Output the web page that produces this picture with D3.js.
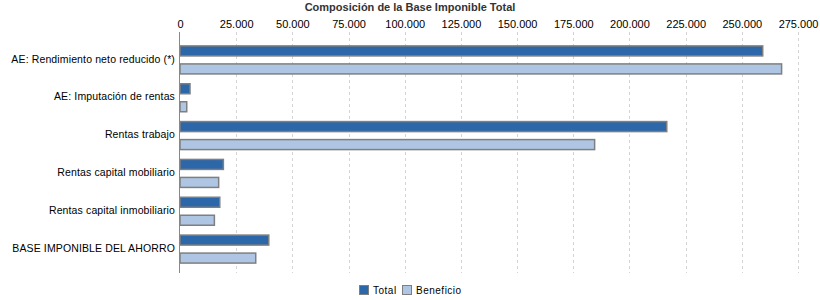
<!DOCTYPE html>
<html>
<head>
<meta charset="utf-8">
<script src="https://cdn.jsdelivr.net/npm/d3@7"></script>
<style>
  body { margin: 0; background: #fff; }
  text { font-family: "Liberation Sans", Arial, sans-serif; fill: #000; }
</style>
</head>
<body>
<div id="chart"></div>
<script>
// data
var categories = [
  "AE: Rendimiento neto reducido (*)",
  "AE: Imputación de rentas",
  "Rentas trabajo",
  "Rentas capital mobiliario",
  "Rentas capital inmobiliario",
  "BASE IMPONIBLE DEL AHORRO"
];
var totalValues = [259300, 4450, 216600, 19300, 17700, 39500];
var beneficioValues = [267700, 3000, 184500, 17200, 15300, 33700];
var seriesNames = ["Total", "Beneficio"];
var tickValues = [0, 25000, 50000, 75000, 100000, 125000, 150000, 175000, 200000, 225000, 250000, 275000];

var colors = ["#2c67a9", "#aec6e4"];

var svgWidth = 820;
var svgHeight = 300;

var svg = d3.select("#chart")
  .append("svg")
  .attr("width", svgWidth)
  .attr("height", svgHeight);

var x = d3.scaleLinear()
  .domain([0, 275000])
  .range([180, 798]);

var y = d3.scaleBand()
  .domain(categories)
  .range([41, 268]);

var fmt = function(d) {
  return d3.format(",")(d).replace(/,/g, ".");
};

// title
svg.append("text")
  .attr("x", 410)
  .attr("y", 11)
  .attr("text-anchor", "middle")
  .attr("font-size", "11px")
  .attr("font-weight", "bold")
  .style("fill", "#333")
  .text("Composición de la Base Imponible Total");

// grid lines
svg.append("g")
  .selectAll("line")
  .data(tickValues.slice(1))
  .enter()
  .append("line")
  .attr("x1", d => Math.round(x(d)) + 0.5)
  .attr("x2", d => Math.round(x(d)) + 0.5)
  .attr("y1", 32)
  .attr("y2", 273)
  .attr("stroke", "#d4d4d4")
  .attr("stroke-dasharray", "3,3");

// top axis labels
var topAxis = d3.axisTop(x)
  .tickValues(tickValues)
  .tickFormat(fmt)
  .tickSize(0)
  .tickPadding(0);

var axisG = svg.append("g")
  .attr("transform", "translate(0, 28)")
  .call(topAxis);
axisG.select(".domain").remove();
axisG.selectAll("text")
  .attr("font-size", "11px")
  .attr("font-family", "Liberation Sans, Arial, sans-serif")
  .style("fill", "#000")
  .attr("dy", 0);

// bars
var barH = 10;
var groups = svg.append("g")
  .selectAll("g")
  .data(categories)
  .enter()
  .append("g");

groups.append("rect")
  .attr("x", x(0))
  .attr("y", (d, i) => y(d) + y.bandwidth() / 2 - 14)
  .attr("width", (d, i) => x(totalValues[i]) - x(0))
  .attr("height", barH)
  .attr("fill", colors[0])
  .attr("stroke", "#7f7f7f")
  .attr("stroke-width", 1.5);

groups.append("rect")
  .attr("x", x(0))
  .attr("y", (d, i) => y(d) + y.bandwidth() / 2 + 4)
  .attr("width", (d, i) => x(beneficioValues[i]) - x(0))
  .attr("height", barH)
  .attr("fill", colors[1])
  .attr("stroke", "#7f7f7f")
  .attr("stroke-width", 1.5);

// left axis line
svg.append("line")
  .attr("x1", 179.5)
  .attr("x2", 179.5)
  .attr("y1", 32)
  .attr("y2", 273)
  .attr("stroke", "#888");

// category labels
var leftAxis = d3.axisLeft(y)
  .tickSize(0)
  .tickPadding(5);
var leftG = svg.append("g")
  .attr("transform", "translate(180, 0)")
  .call(leftAxis);
leftG.select(".domain").remove();
leftG.selectAll("text")
  .attr("font-size", "10.5px")
  .attr("font-family", "Liberation Sans, Arial, sans-serif")
  .style("letter-spacing", "0.13px")
  .style("fill", "#000")
  .attr("dy", "0.25em");

// legend
var legend = svg.append("g")
  .attr("transform", "translate(359, 285)");
var legendX = [0, 43];
seriesNames.forEach(function(name, i) {
  legend.append("rect")
    .attr("x", legendX[i] + 0.5)
    .attr("y", 0.5)
    .attr("width", 9)
    .attr("height", 9)
    .attr("fill", colors[i])
    .attr("stroke", "#7f7f7f");
  legend.append("text")
    .attr("x", legendX[i] + 14)
    .attr("y", 8.5)
    .attr("font-size", "10px")
    .style("letter-spacing", "0.5px")
    .text(name);
});
</script>
</body>
</html>
